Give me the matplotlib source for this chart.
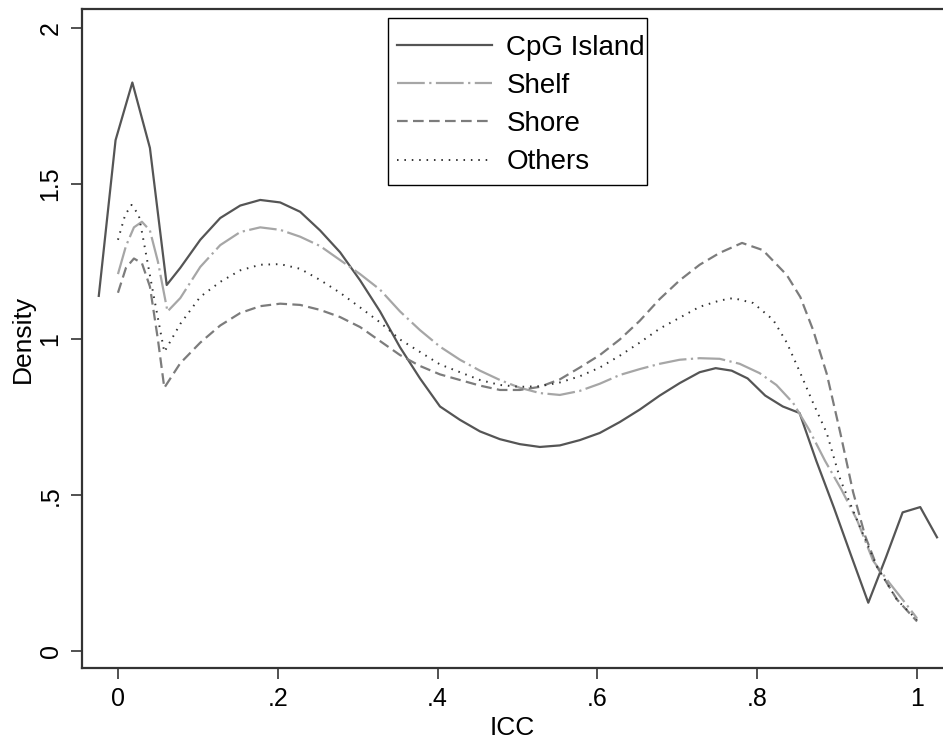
import matplotlib
matplotlib.use("Agg")
import matplotlib.pyplot as plt
from matplotlib.patches import Rectangle

plt.rcParams['font.family'] = ['Liberation Sans', 'DejaVu Sans']

# ---- data ----
cpg_x = [-0.024, -0.003, 0.018, 0.040, 0.061, 0.078, 0.103, 0.128, 0.153, 0.178,
         0.203, 0.228, 0.253, 0.278, 0.303, 0.328, 0.353, 0.378, 0.403, 0.428,
         0.453, 0.478, 0.503, 0.528, 0.553, 0.578, 0.603, 0.628, 0.653, 0.678,
         0.703, 0.728, 0.748, 0.768, 0.788, 0.810, 0.832, 0.853, 0.874, 0.896,
         0.917, 0.939, 0.961, 0.982, 1.004, 1.025]
cpg_y = [1.14, 1.64, 1.825, 1.615, 1.175, 1.23, 1.32, 1.39, 1.43, 1.448,
         1.44, 1.41, 1.35, 1.28, 1.19, 1.09, 0.975, 0.875, 0.785, 0.742,
         0.705, 0.68, 0.664, 0.655, 0.66, 0.677, 0.70, 0.735, 0.775, 0.82,
         0.86, 0.895, 0.908, 0.90, 0.875, 0.82, 0.785, 0.764, 0.61, 0.46,
         0.31, 0.155, 0.30, 0.445, 0.462, 0.365]

shelf_x = [0.000, 0.010, 0.020, 0.030, 0.040, 0.050, 0.062, 0.078, 0.103, 0.128,
           0.153, 0.178, 0.203, 0.228, 0.253, 0.278, 0.303, 0.328, 0.353, 0.378,
           0.403, 0.428, 0.453, 0.478, 0.503, 0.528, 0.553, 0.578, 0.603, 0.628,
           0.653, 0.678, 0.703, 0.728, 0.753, 0.778, 0.803, 0.824, 0.845, 0.865,
           0.885, 0.905, 0.925, 0.945, 0.965, 0.985, 1.000]
shelf_y = [1.21, 1.30, 1.36, 1.378, 1.35, 1.25, 1.09, 1.133, 1.233, 1.303,
           1.345, 1.36, 1.352, 1.33, 1.30, 1.255, 1.21, 1.16, 1.09, 1.03,
           0.977, 0.935, 0.90, 0.87, 0.845, 0.828, 0.822, 0.835, 0.858, 0.886,
           0.905, 0.922, 0.935, 0.94, 0.938, 0.922, 0.892, 0.854, 0.796, 0.71,
           0.61, 0.52, 0.42, 0.29, 0.22, 0.155, 0.105]

shore_x = [0.000, 0.010, 0.020, 0.030, 0.040, 0.050, 0.058, 0.078, 0.103, 0.128,
           0.153, 0.178, 0.203, 0.228, 0.253, 0.278, 0.303, 0.328, 0.353, 0.378,
           0.403, 0.428, 0.453, 0.478, 0.503, 0.528, 0.553, 0.578, 0.603, 0.628,
           0.653, 0.678, 0.703, 0.728, 0.753, 0.781, 0.807, 0.837, 0.854, 0.870,
           0.887, 0.904, 0.920, 0.935, 0.950, 0.975, 1.000]
shore_y = [1.15, 1.23, 1.26, 1.245, 1.17, 1.00, 0.845, 0.924, 0.99, 1.045,
           1.085, 1.107, 1.115, 1.111, 1.095, 1.072, 1.04, 0.995, 0.95, 0.915,
           0.888, 0.87, 0.852, 0.838, 0.838, 0.848, 0.872, 0.91, 0.95, 1.00,
           1.06, 1.13, 1.19, 1.24, 1.278, 1.31, 1.287, 1.207, 1.136, 1.03,
           0.89, 0.70, 0.51, 0.37, 0.27, 0.165, 0.095]

others_x = [0.000, 0.009, 0.017, 0.026, 0.034, 0.044, 0.058, 0.078, 0.103, 0.128,
            0.153, 0.178, 0.203, 0.228, 0.253, 0.278, 0.303, 0.328, 0.353, 0.378,
            0.403, 0.428, 0.453, 0.478, 0.503, 0.528, 0.553, 0.578, 0.603, 0.628,
            0.653, 0.678, 0.703, 0.728, 0.753, 0.770, 0.795, 0.820, 0.837, 0.854,
            0.870, 0.887, 0.904, 0.925, 0.950, 0.975, 1.000]
others_y = [1.32, 1.40, 1.432, 1.40, 1.29, 1.15, 0.96, 1.05, 1.137, 1.185,
            1.222, 1.24, 1.242, 1.227, 1.191, 1.15, 1.103, 1.055, 1.00, 0.96,
            0.92, 0.895, 0.87, 0.854, 0.848, 0.85, 0.862, 0.882, 0.91, 0.948,
            0.99, 1.035, 1.07, 1.105, 1.125, 1.133, 1.117, 1.063, 0.99, 0.892,
            0.796, 0.70, 0.55, 0.42, 0.27, 0.164, 0.10]

labels = ["CpG Island", "Shelf", "Shore", "Others"]
x_ticks = [0, 0.2, 0.4, 0.6, 0.8, 1.0]
x_ticklabels = ["0", ".2", ".4", ".6", ".8", "1"]
y_ticks = [0, 0.5, 1.0, 1.5, 2.0]
y_ticklabels = ["0", ".5", "1", "1.5", "2"]

# ---- figure ----
W, H = 943, 742
fig = plt.figure(figsize=(W / 100, H / 100), dpi=100)
ax = fig.add_axes([82 / W, 74 / H, 1 - 82 / W, (668 - 9) / H])

ax.plot(cpg_x, cpg_y, color="#555555", lw=1.6, linestyle="-", label=labels[0])
ax.plot(shelf_x, shelf_y, color="#a6a6a6", lw=1.6,
        linestyle=(0, (12.5, 2.0, 1.0, 2.0)), label=labels[1])
ax.plot(shore_x, shore_y, color="#7c7c7c", lw=1.6,
        linestyle=(0, (4.8, 2.4)), label=labels[2])
ax.plot(others_x, others_y, color="#333333", lw=1.4,
        linestyle=(0, (0.8, 3.0)), label=labels[3])

ax.set_xlim(-0.045, 1.0325)
ax.set_ylim(-0.0546, 2.061)

ax.set_xticks(x_ticks)
ax.set_xticklabels(x_ticklabels)
ax.set_yticks(y_ticks)
ax.set_yticklabels(y_ticklabels, rotation=90, va="center")

ax.tick_params(axis="both", direction="out", length=8, width=1.2,
               labelsize=18, color="#333333")
ax.tick_params(axis="x", pad=6)
ax.tick_params(axis="y", pad=6)

for side in ["left", "top", "bottom"]:
    ax.spines[side].set_linewidth(1.6)
    ax.spines[side].set_color("#333333")
ax.spines["right"].set_visible(False)

ax.set_xlabel("ICC", fontsize=19, labelpad=3)
ax.set_ylabel("Density", fontsize=19, labelpad=3)

# legend content (no own frame) plus a frame box drawn separately
leg = ax.legend(loc="upper left", bbox_to_anchor=(397 / W, 1 - 35 / H),
                bbox_transform=fig.transFigure, fontsize=20, frameon=False,
                handlelength=3.42, handletextpad=0.52, labelspacing=0.435,
                borderpad=0, borderaxespad=0)
frame = Rectangle((388 / W, 1 - 185 / H), (647 - 388) / W, (185 - 18) / H,
                  transform=fig.transFigure, fill=False, edgecolor="black",
                  linewidth=1.0, zorder=4)
fig.add_artist(frame)

fig.savefig("out.png", dpi=100)
